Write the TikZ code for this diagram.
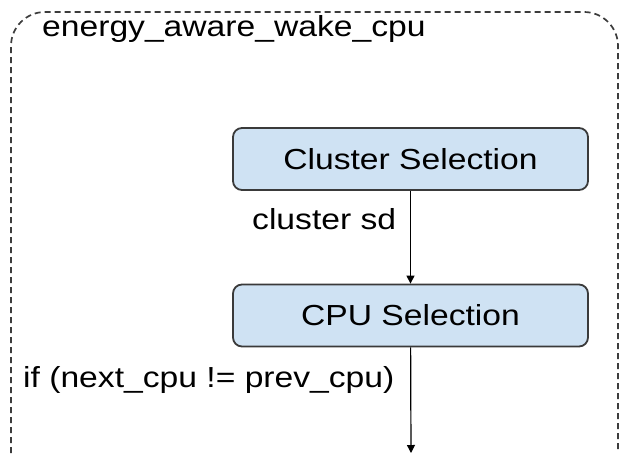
\documentclass[tikz,border=0pt]{standalone}
\usepackage{fontspec}
\setmainfont{Liberation Sans}[FakeStretch=1.16]
\usetikzlibrary{arrows.meta}
\definecolor{selfill}{HTML}{CFE2F3}
\definecolor{seldraw}{HTML}{3A3A3A}
\definecolor{framecol}{HTML}{3C3C3C}
\tikzset{
  selbox/.style={draw=seldraw, line width=1.8pt, fill=selfill, rounded corners=9pt,
    minimum width=355pt, minimum height=62pt, inner sep=0pt},
  flow/.style={-{Triangle[length=8pt,width=8pt]}, line width=1.2pt, black},
  lbl/.style={anchor=base west, inner sep=0pt}
}
\begin{document}
\begin{tikzpicture}[x=1pt,y=-1pt,every node/.style={font=\fontsize{29}{34}\selectfont}]
            \useasboundingbox (0,0) rectangle (621,453);
            \draw[framecol, line width=1.7pt, dash pattern=on 6pt off 4pt, rounded corners=34pt]
                (11,453) -- (11,12) -- (618,12) -- (618,453);     % frame
            \node[lbl] (title) at (42,36) {energy\_aware\_wake\_cpu};
            \node[selbox] (cluster) at (410.5,159) {Cluster Selection};
            \node[selbox] (cpu) at (410.5,315.5) {CPU Selection};
            \coordinate (out) at (411,453);
            \draw[flow] (cluster) -- (cpu);
            \draw[flow] (cpu) -- (out);
            \node[lbl] (sd) at (252,229) {cluster sd};
            \node[lbl] (cond) at (23,387) {if (next\_cpu != prev\_cpu)};
        \end{tikzpicture}
\end{document}
